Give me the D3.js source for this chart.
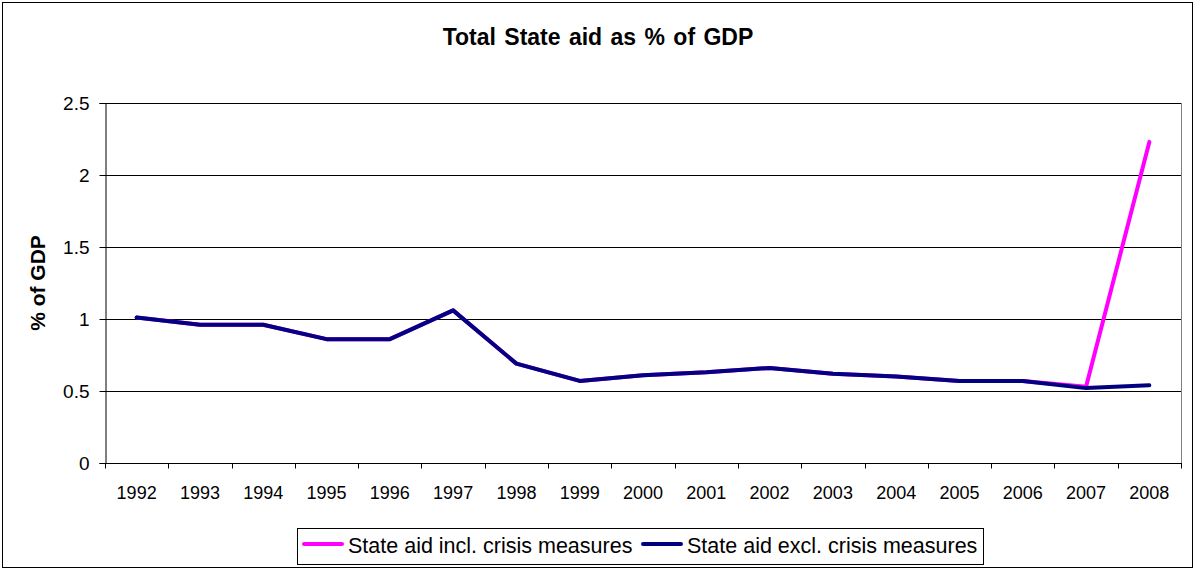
<!DOCTYPE html>
<html lang="en">
<head>
<meta charset="UTF-8" />
<title>Total State aid as % of GDP</title>
<style>
  body { margin: 0; background: #fff; }
  svg text { font-family: "Liberation Sans", Arial, sans-serif; }
</style>
</head>
<body>
<script src="https://cdn.jsdelivr.net/npm/d3@7"></script>
<div id="app"></div>
<script>
// data
const years = ["1992","1993","1994","1995","1996","1997","1998","1999","2000",
               "2001","2002","2003","2004","2005","2006","2007","2008"];
const inclCrisis = [1.01,0.96,0.96,0.86,0.86,1.06,0.69,0.57,0.61,0.63,0.66,0.62,0.60,0.57,0.57,0.53,2.23];
const exclCrisis = [1.01,0.96,0.96,0.86,0.86,1.06,0.69,0.57,0.61,0.63,0.66,0.62,0.60,0.57,0.57,0.52,0.54];
const yTicks = [0, 0.5, 1, 1.5, 2, 2.5];
const seriesNames = ["State aid incl. crisis measures", "State aid excl. crisis measures"];
const seriesColors = ["#ff00ff", "#000080"];

// canvas
const w = 1195, h = 569;
const m = { left: 105, right: 1181, top: 103, bottom: 463 };

const svg = d3.select("#app").append("svg")
  .attr("width", w).attr("height", h);

// outer frame
svg.append("rect")
  .attr("x", 2.5).attr("y", 2.5)
  .attr("width", w - 5).attr("height", h - 4)
  .attr("fill", "#fff").attr("stroke", "#000");

// scales
const x = d3.scaleBand().domain(years).range([m.left, m.right]);
const y = d3.scaleLinear().domain([0, 2.5]).range([m.bottom, m.top]);

// gridlines
svg.append("g")
  .selectAll("line")
  .data(yTicks.filter(t => t > 0))
  .enter().append("line")
  .attr("x1", m.left).attr("x2", m.right)
  .attr("y1", d => Math.round(y(d)) + 0.5).attr("y2", d => Math.round(y(d)) + 0.5)
  .attr("stroke", "#000").attr("stroke-width", 1);

// plot area right border
svg.append("line")
  .attr("x1", m.right + 0.5).attr("x2", m.right + 0.5)
  .attr("y1", m.top).attr("y2", m.bottom)
  .attr("stroke", "#808080");

// y axis
const yAxis = svg.append("g")
  .attr("transform", `translate(${m.left + 0.5},0)`)
  .call(d3.axisLeft(y).tickValues(yTicks).tickSize(6).tickPadding(10).tickFormat(d3.format("")));
yAxis.select(".domain").attr("stroke", "#000");
yAxis.selectAll(".tick line").attr("stroke", "#000");
yAxis.selectAll("text").style("font-size", "19px").attr("fill", "#000");

// x axis, ticks between categories
const xAxis = svg.append("g")
  .attr("transform", `translate(0,${Math.round(m.bottom) + 0.5})`);
xAxis.append("line")
  .attr("x1", m.left).attr("x2", m.right + 1)
  .attr("stroke", "#000");
xAxis.selectAll(".tk")
  .data(years.concat(["end"]))
  .enter().append("line")
  .attr("class", "tk")
  .attr("x1", (d, i) => Math.round(m.left + i * x.step()) + 0.5)
  .attr("x2", (d, i) => Math.round(m.left + i * x.step()) + 0.5)
  .attr("y1", 0).attr("y2", 5)
  .attr("stroke", "#000");
xAxis.selectAll("text")
  .data(years)
  .enter().append("text")
  .attr("x", d => x(d) + x.bandwidth() / 2)
  .attr("y", 35)
  .attr("text-anchor", "middle")
  .style("font-size", "18px")
  .text(d => d);

// lines
const line = d3.line()
  .x((d, i) => x(years[i]) + x.bandwidth() / 2)
  .y(d => y(d));

[inclCrisis, exclCrisis].forEach((s, i) => {
  svg.append("path")
    .datum(s)
    .attr("d", line)
    .attr("fill", "none")
    .attr("stroke", seriesColors[i])
    .attr("stroke-width", 4)
    .attr("stroke-linejoin", "round")
    .attr("stroke-linecap", "round");
});

// title
svg.append("text")
  .attr("x", 598).attr("y", 45)
  .attr("text-anchor", "middle")
  .style("font-size", "23px").style("font-weight", "bold")
  .style("word-spacing", "2px")
  .text("Total State aid as % of GDP");

// y label
svg.append("text")
  .attr("transform", `translate(45,${(m.top + m.bottom) / 2}) rotate(-90)`)
  .attr("text-anchor", "middle")
  .style("font-size", "21px").style("font-weight", "bold")
  .text("% of GDP");

// legend
const lg = svg.append("g");
lg.append("rect")
  .attr("x", 297.5).attr("y", 528.5)
  .attr("width", 686).attr("height", 36)
  .attr("fill", "#fff").attr("stroke", "#000");
const legendX = [303, 642];
seriesNames.forEach((n, i) => {
  lg.append("line")
    .attr("x1", legendX[i] + 1).attr("x2", legendX[i] + 39)
    .attr("y1", 544).attr("y2", 544)
    .attr("stroke", seriesColors[i]).attr("stroke-width", 4)
    .attr("stroke-linecap", "round");
  lg.append("text")
    .attr("x", legendX[i] + 45).attr("y", 553)
    .style("font-size", "21.5px")
    .text(n);
});
</script>
</body>
</html>
